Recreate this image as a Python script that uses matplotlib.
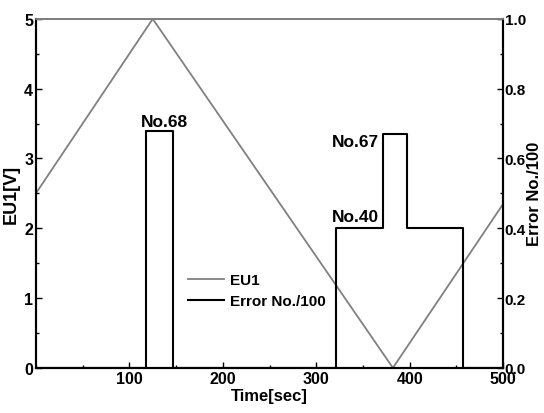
import matplotlib
matplotlib.use("Agg")
import matplotlib.pyplot as plt
from matplotlib.ticker import MultipleLocator

plt.rcParams['font.family'] = ['Liberation Sans', 'DejaVu Sans']
plt.rcParams['font.weight'] = 'bold'

# EU1 triangle wave key points (time, volts)
eu1_t = [0, 125, 382, 500]
eu1_v = [2.5, 5.0, 0.0, 2.35]

# Error No./100 step signal
err_t = [0, 118, 118, 147, 147, 321, 321, 371, 371, 397, 397, 457, 457, 500]
err_v = [0, 0, 0.68, 0.68, 0, 0, 0.40, 0.40, 0.67, 0.67, 0.40, 0.40, 0, 0]

# annotation text, x, y (right axis units), alignment
annotations = [("No.68", 138, 0.693, 'center'),
               ("No.67", 367, 0.636, 'right'),
               ("No.40", 367, 0.421, 'right')]

fig = plt.figure(figsize=(5.44, 4.14), dpi=100)
ax = fig.add_axes([0.066, 0.109, 0.859, 0.843])
ax2 = ax.twinx()

l1, = ax.plot(eu1_t, eu1_v, color='#808080', lw=1.3, label='EU1')
l2, = ax2.plot(err_t, err_v, color='black', lw=1.5, label='Error No./100')

ax.set_xlim(0, 500)
ax.set_ylim(0, 5)
ax2.set_ylim(0, 1.0)

ax.set_xticks([100, 200, 300, 400, 500])
ax.xaxis.set_minor_locator(MultipleLocator(50))
ax.set_yticks([0, 1, 2, 3, 4, 5])
ax.yaxis.set_minor_locator(MultipleLocator(0.5))
ax2.set_yticks([0, 0.2, 0.4, 0.6, 0.8, 1.0])
ax2.set_yticklabels(['0.0', '0.2', '0.4', '0.6', '0.8', '1.0'])
ax2.yaxis.set_minor_locator(MultipleLocator(0.1))

for a in (ax, ax2):
    a.tick_params(which='both', direction='in', labelsize=11.5, width=1, pad=2)
    a.tick_params(which='major', length=4)
    a.tick_params(which='minor', length=2)
ax.tick_params(axis='y', which='both', right=False)
ax.tick_params(axis='x', which='both', top=False)
ax2.tick_params(axis='y', pad=1, labelsize=11)

for lab in ax.get_xticklabels() + ax.get_yticklabels() + ax2.get_yticklabels():
    lab.set_fontweight('bold')

for a in (ax, ax2):
    a.spines['top'].set_color('#808080')
    a.spines['top'].set_linewidth(1.3)
    for s in ('left', 'right', 'bottom'):
        a.spines[s].set_linewidth(1.5)

ax.set_xlabel('Time[sec]', fontsize=12, fontweight='bold', labelpad=2)
ax.set_ylabel('EU1[V]', fontsize=13, fontweight='bold', labelpad=3)
ax2.set_ylabel('Error No./100', fontsize=12, fontweight='bold', labelpad=1)

for txt, x, y, ha in annotations:
    ax2.text(x, y, txt, ha=ha, va='baseline', fontsize=12.5, fontweight='bold')

leg = ax2.legend(handles=[l1, l2], loc='upper left', bbox_to_anchor=(0.295, 0.31),
                 frameon=False, fontsize=11, handlelength=2.4, handletextpad=0.4,
                 labelspacing=0.45)
for t in leg.get_texts():
    t.set_fontweight('bold')

fig.savefig('out.png', dpi=100)
